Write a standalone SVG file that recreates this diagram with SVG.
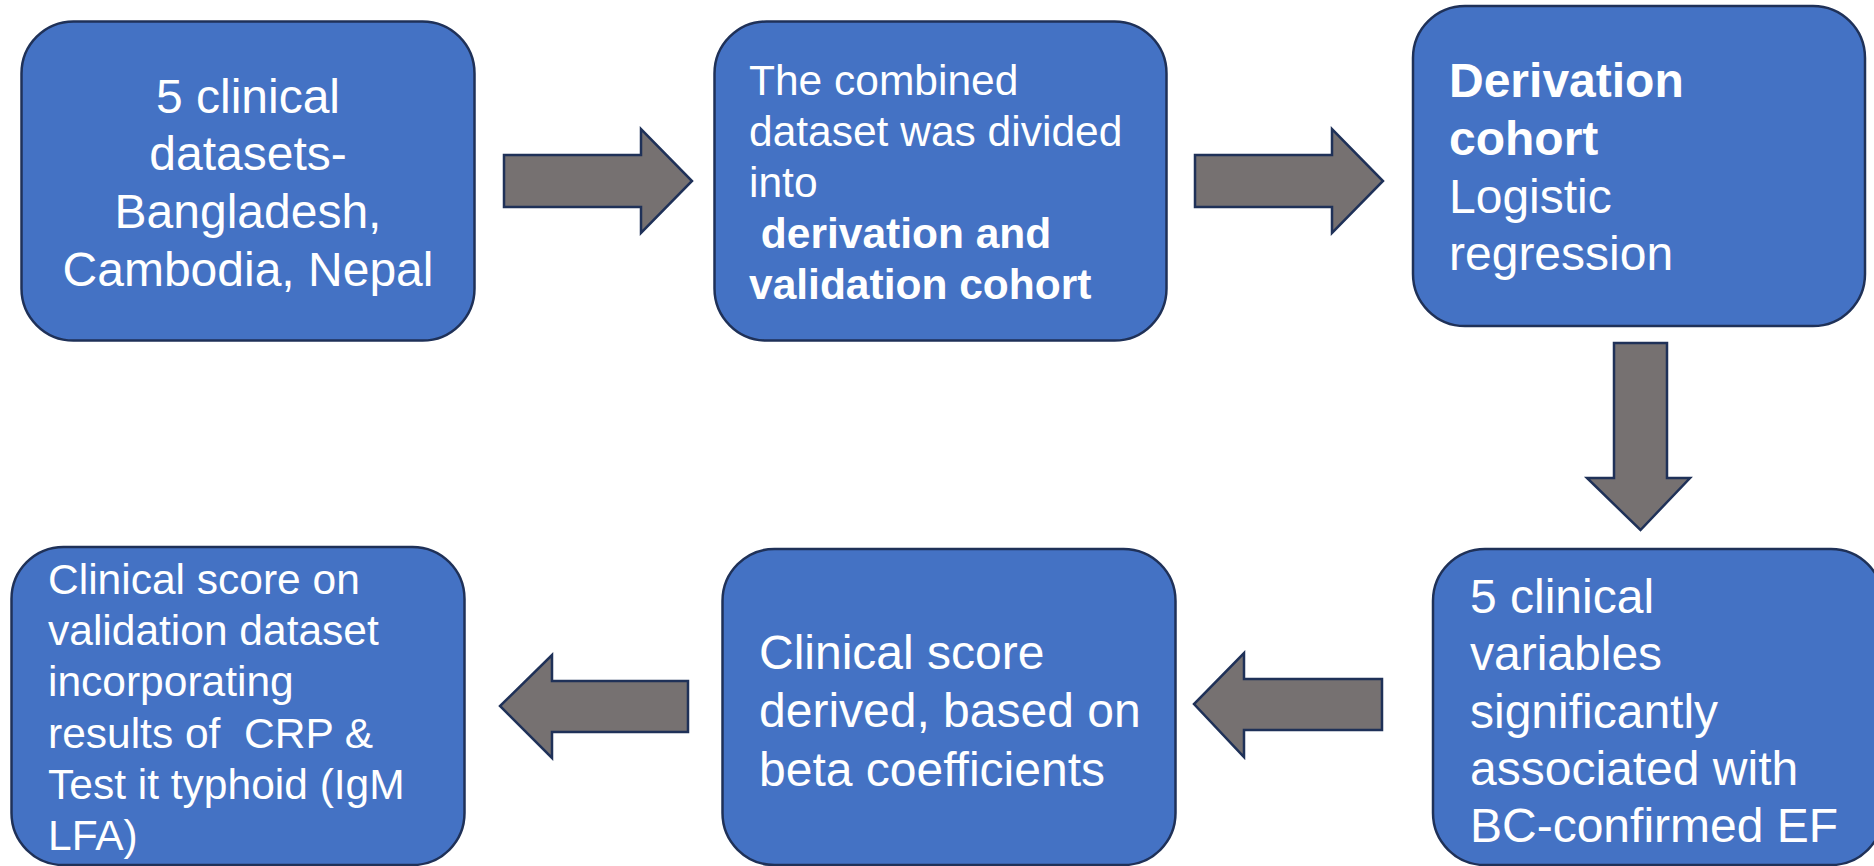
<svg xmlns="http://www.w3.org/2000/svg" width="1874" height="866" viewBox="0 0 1874 866">
<style>
.box{fill:#4472c4;stroke:#1f3158;stroke-width:2.5}
.arr{fill:#767171;stroke:#1f3158;stroke-width:2.5;stroke-linejoin:miter}
text{font-family:"Liberation Sans",Arial,sans-serif;fill:#ffffff;white-space:pre}
.l{font-size:48px}
.s{font-size:42.5px}
.b{font-weight:bold}
</style>
<rect width="1874" height="866" fill="#ffffff"/>
<g id="connectors">
<polygon class="arr" points="504,155 641,155 641,129 692,181 641,233 641,207 504,207"/>
<polygon class="arr" points="1195,155 1332,155 1332,129 1383,181 1332,233 1332,207 1195,207"/>
<polygon class="arr" points="1614,343 1667,343 1667,478 1690,478 1640.5,530 1587,478 1614,478"/>
<polygon class="arr" points="1382,679 1244,679 1244,653 1194,704 1244,757 1244,730 1382,730"/>
<polygon class="arr" points="688,681 552,681 552,655 500,706 552,758 552,732 688,732"/>
</g>
<g id="node1">
<rect class="box" x="21.5" y="21.5" width="453" height="319" rx="52"/>
<text class="l" text-anchor="middle"><tspan x="248" y="112.5">5 clinical</tspan><tspan x="248" y="170">datasets-</tspan><tspan x="248" y="227.5">Bangladesh,</tspan><tspan x="248" y="285.5">Cambodia, Nepal</tspan></text>
</g>
<g id="node2">
<rect class="box" x="714.5" y="21.5" width="452" height="319" rx="52"/>
<text class="s"><tspan x="749" y="94.5">The combined</tspan><tspan x="749" y="145.5">dataset was divided</tspan><tspan x="749" y="196.5">into</tspan><tspan x="749" y="248" class="b"> derivation and</tspan><tspan x="749" y="299" class="b">validation cohort</tspan></text>
</g>
<g id="node3">
<rect class="box" x="1413" y="6" width="452" height="320" rx="52"/>
<text class="l"><tspan x="1449" y="97" class="b">Derivation</tspan><tspan x="1449" y="155" class="b">cohort</tspan><tspan x="1449" y="212.5">Logistic</tspan><tspan x="1449" y="270">regression</tspan></text>
</g>
<g id="node4">
<rect class="box" x="1433" y="549" width="450" height="316" rx="52"/>
<text class="l"><tspan x="1470" y="613">5 clinical</tspan><tspan x="1470" y="670">variables</tspan><tspan x="1470" y="727.5">significantly</tspan><tspan x="1470" y="785">associated with</tspan><tspan x="1470" y="842">BC-confirmed EF</tspan></text>
</g>
<g id="node5">
<rect class="box" x="722.5" y="549" width="453" height="316" rx="52"/>
<text class="l"><tspan x="759" y="669">Clinical score</tspan><tspan x="759" y="727">derived, based on</tspan><tspan x="759" y="785.5">beta coefficients</tspan></text>
</g>
<g id="node6">
<rect class="box" x="11.5" y="547" width="453" height="318" rx="52"/>
<text class="s"><tspan x="48" y="594">Clinical score on</tspan><tspan x="48" y="645">validation dataset</tspan><tspan x="48" y="696">incorporating</tspan><tspan x="48" y="747.5">results of  CRP &amp;</tspan><tspan x="48" y="798.5">Test it typhoid (IgM</tspan><tspan x="48" y="850">LFA)</tspan></text>
</g>
</svg>
